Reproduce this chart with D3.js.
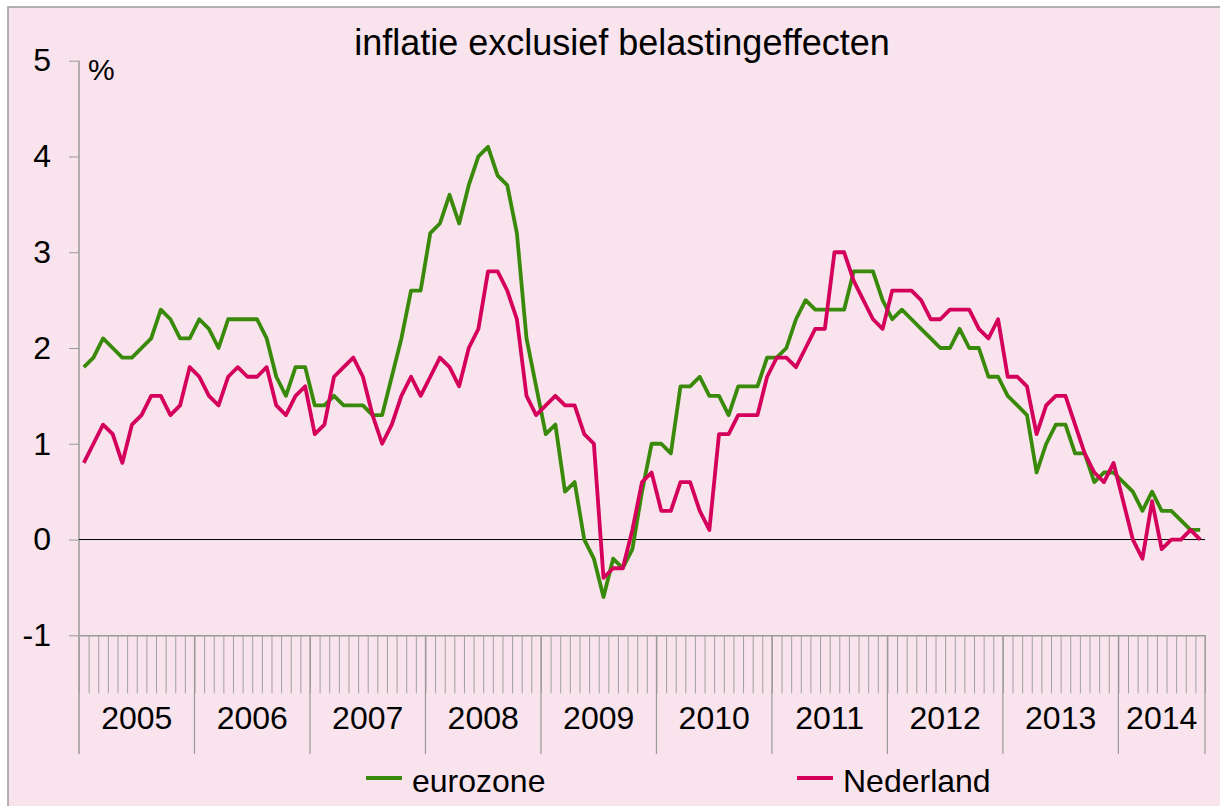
<!DOCTYPE html>
<html>
<head>
<meta charset="utf-8">
<script src="https://cdn.jsdelivr.net/npm/d3@7"></script>
<style>
  body { margin: 0; background: #fff; }
  text { font-family: "Liberation Sans", Arial, sans-serif; }
</style>
</head>
<body>
<div id="plot"></div>
<script>
const width = 1220
const height = 806
const margin = ({top: 61, right: 15, bottom: 171, left: 79})

// monthly values, jan 2005 - sep 2014
const years = ["2005", "2006", "2007", "2008", "2009", "2010", "2011", "2012", "2013", "2014"]
const eurozone = [
  1.8, 1.9, 2.1, 2.0, 1.9, 1.9, 2.0, 2.1, 2.4, 2.3, 2.1, 2.1,
  2.3, 2.2, 2.0, 2.3, 2.3, 2.3, 2.3, 2.1, 1.7, 1.5, 1.8, 1.8,
  1.4, 1.4, 1.5, 1.4, 1.4, 1.4, 1.3, 1.3, 1.7, 2.1, 2.6, 2.6,
  3.2, 3.3, 3.6, 3.3, 3.7, 4.0, 4.1, 3.8, 3.7, 3.2, 2.1, 1.6,
  1.1, 1.2, 0.5, 0.6, 0.0, -0.2, -0.6, -0.2, -0.3, -0.1, 0.5, 1.0,
  1.0, 0.9, 1.6, 1.6, 1.7, 1.5, 1.5, 1.3, 1.6, 1.6, 1.6, 1.9,
  1.9, 2.0, 2.3, 2.5, 2.4, 2.4, 2.4, 2.4, 2.8, 2.8, 2.8, 2.5,
  2.3, 2.4, 2.3, 2.2, 2.1, 2.0, 2.0, 2.2, 2.0, 2.0, 1.7, 1.7,
  1.5, 1.4, 1.3, 0.7, 1.0, 1.2, 1.2, 0.9, 0.9, 0.6, 0.7, 0.7,
  0.6, 0.5, 0.3, 0.5, 0.3, 0.3, 0.2, 0.1, 0.1
]
const nederland = [
  0.8, 1.0, 1.2, 1.1, 0.8, 1.2, 1.3, 1.5, 1.5, 1.3, 1.4, 1.8,
  1.7, 1.5, 1.4, 1.7, 1.8, 1.7, 1.7, 1.8, 1.4, 1.3, 1.5, 1.6,
  1.1, 1.2, 1.7, 1.8, 1.9, 1.7, 1.3, 1.0, 1.2, 1.5, 1.7, 1.5,
  1.7, 1.9, 1.8, 1.6, 2.0, 2.2, 2.8, 2.8, 2.6, 2.3, 1.5, 1.3,
  1.4, 1.5, 1.4, 1.4, 1.1, 1.0, -0.4, -0.3, -0.3, 0.1, 0.6, 0.7,
  0.3, 0.3, 0.6, 0.6, 0.3, 0.1, 1.1, 1.1, 1.3, 1.3, 1.3, 1.7,
  1.9, 1.9, 1.8, 2.0, 2.2, 2.2, 3.0, 3.0, 2.7, 2.5, 2.3, 2.2,
  2.6, 2.6, 2.6, 2.5, 2.3, 2.3, 2.4, 2.4, 2.4, 2.2, 2.1, 2.3,
  1.7, 1.7, 1.6, 1.1, 1.4, 1.5, 1.5, 1.2, 0.9, 0.7, 0.6, 0.8,
  0.4, 0.0, -0.2, 0.4, -0.1, 0.0, 0.0, 0.1, 0.0
]
const yTicks = [-1, 0, 1, 2, 3, 4, 5]
const seriesNames = ["eurozone", "Nederland"]
const colors = ["#398a0a", "#d4005b"]

const n = eurozone.length

x = d3.scaleLinear()
  .domain([0, n])
  .range([margin.left, 1205])

y = d3.scaleLinear()
  .domain([-1, 5])
  .range([height - margin.bottom + 0.3, margin.top - 0.3])

const svg = d3.select("#plot")
  .append("svg")
  .attr("width", width)
  .attr("height", height)

// pink background with grey frame on the top/left
svg.append("rect")
  .attr("x", 8).attr("y", 7)
  .attr("width", width).attr("height", height)
  .attr("fill", "#f9e3ec")
  .attr("stroke", "#9a9a9a")
  .attr("stroke-width", 1.5)

svg.append("text")
  .attr("x", 622)
  .attr("y", 55)
  .attr("text-anchor", "middle")
  .attr("font-size", "36px")
  .attr("fill", "black")
  .text("inflatie exclusief belastingeffecten")

// y axis
yAxis = g => g
  .attr("transform", `translate(${margin.left},0)`)
  .call(d3.axisLeft(y).tickValues(yTicks).tickSize(10).tickSizeOuter(0).tickPadding(18).tickFormat(d => String(d)))
  .call(g => g.select(".domain").remove())
  .call(g => g.selectAll(".tick line").attr("stroke", "#9a9a9a"))
  .call(g => g.selectAll(".tick text").attr("font-size", "32px").attr("fill", "black").attr("font-family", "Liberation Sans, Arial, sans-serif"))

svg.append("g").attr("class", "yaxis").call(yAxis)

svg.append("line")
  .attr("x1", margin.left).attr("x2", margin.left)
  .attr("y1", y(5)).attr("y2", 754)
  .attr("stroke", "#9a9a9a").attr("stroke-width", 1.5)

svg.append("text")
  .attr("x", 88)
  .attr("y", 80)
  .attr("font-size", "30px")
  .attr("fill", "black")
  .text("%")

// x axis: month ticks, year boundaries and labels
xAxis = g => g
  .attr("transform", `translate(0,${y(-1)})`)
  .call(d3.axisBottom(x).tickValues(d3.range(0, n + 1)).tickSize(58).tickSizeOuter(0).tickFormat(""))
  .call(g => g.select(".domain").attr("stroke", "#9a9a9a").attr("stroke-width", 1.5))
  .call(g => g.selectAll(".tick line").attr("stroke", "#a0a0a0"))

svg.append("g").attr("class", "xaxis").call(xAxis)

const yearStart = years.map((d, i) => i * 12)
const yearEnd = years.map((d, i) => Math.min((i + 1) * 12, n))

svg.append("g")
  .selectAll("line")
  .data(yearEnd)
  .join("line")
  .attr("x1", d => x(d)).attr("x2", d => x(d))
  .attr("y1", y(-1)).attr("y2", 754)
  .attr("stroke", "#9a9a9a").attr("stroke-width", 1.2)

svg.append("g")
  .selectAll("text")
  .data(years)
  .join("text")
  .attr("x", (d, i) => (x(yearStart[i]) + x(yearEnd[i])) / 2)
  .attr("y", 729)
  .attr("text-anchor", "middle")
  .attr("font-size", "32px")
  .attr("fill", "black")
  .text(d => d)

// zero line
svg.append("line")
  .attr("x1", x(0)).attr("x2", x(n))
  .attr("y1", y(0)).attr("y2", y(0))
  .attr("stroke", "black").attr("stroke-width", 1)

line = d3.line()
  .x((d, i) => x(i + 0.5))
  .y(d => y(d))

;[eurozone, nederland].forEach((s, k) => {
  svg.append("path")
    .datum(s)
    .attr("fill", "none")
    .attr("stroke", colors[k])
    .attr("stroke-width", 3.8)
    .attr("stroke-linejoin", "round")
    .attr("d", line)
})

// legend
const legendX = [366, 797]
const legend = svg.append("g")
  .selectAll("g")
  .data(seriesNames)
  .join("g")
  .attr("transform", (d, i) => `translate(${legendX[i]},778)`)

legend.append("line")
  .attr("x1", 0).attr("x2", 36)
  .attr("stroke", (d, i) => colors[i])
  .attr("stroke-width", 3.8)

legend.append("text")
  .attr("x", 46)
  .attr("y", 14)
  .attr("font-size", "32px")
  .attr("fill", "black")
  .text(d => d)
</script>
</body>
</html>
